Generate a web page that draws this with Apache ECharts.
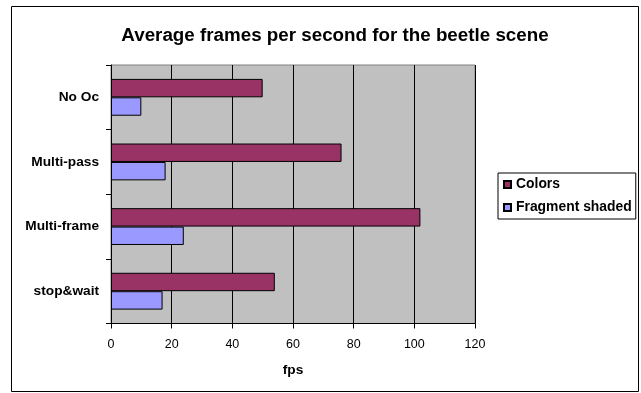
<!DOCTYPE html>
<html>
<head>
<meta charset="utf-8">
<script src="https://cdn.jsdelivr.net/npm/echarts@6/dist/echarts.min.js"></script>
<style>
  html, body { margin: 0; padding: 0; background: #ffffff; }
  #chart { width: 641px; height: 393px; }
</style>
</head>
<body>
<div id="chart"></div>
<script>
// Scene variants, listed top to bottom
const categories = ['No Oc', 'Multi-pass', 'Multi-frame', 'stop&wait'];
// Average frames per second
const colorsFps = [50, 76, 102, 54];
const fragmentShadedFps = [10, 18, 24, 17];
const seriesNames = ['Colors', 'Fragment shaded'];
const fpsTicks = { min: 0, max: 120, interval: 20 };

const FONT = '"Liberation Sans", Arial, sans-serif';

const chart = echarts.init(document.getElementById('chart'), null, { renderer: 'canvas' });

chart.setOption({
  animation: false,
  backgroundColor: '#ffffff',
  title: {
    text: 'Average frames per second for the beetle scene',
    left: 330,
    top: 21,
    textAlign: 'center',
    textStyle: { fontFamily: FONT, fontWeight: 'bold', fontSize: 18.8, color: '#000' }
  },
  graphic: [{
    type: 'rect',
    shape: { x: 11.5, y: 6.5, width: 627, height: 385 },
    style: { fill: 'none', stroke: '#000', lineWidth: 1 },
    z: -1
  }],
  legend: {
    orient: 'vertical',
    left: 498,
    top: 173,
    padding: [4, 4, 4, 5],
    itemGap: 8,
    itemWidth: 7,
    itemHeight: 7,
    icon: 'rect',
    backgroundColor: '#ffffff',
    borderColor: '#000',
    borderWidth: 1,
    textStyle: { fontFamily: FONT, fontWeight: 'bold', fontSize: 13.9, color: '#000', lineHeight: 15 },
    data: seriesNames
  },
  grid: {
    left: 111, top: 65, right: 166, bottom: 69.5,
    show: true,
    backgroundColor: '#C0C0C0',
    borderColor: '#808080',
    borderWidth: 1
  },
  xAxis: {
    type: 'value',
    min: fpsTicks.min, max: fpsTicks.max, interval: fpsTicks.interval,
    name: 'fps',
    nameLocation: 'middle',
    nameGap: 40,
    nameTextStyle: { fontFamily: FONT, fontWeight: 'bold', fontSize: 13.7, color: '#000' },
    axisLine: { show: true, lineStyle: { color: '#000', width: 1 } },
    axisTick: { show: true, length: 5, lineStyle: { color: '#000' } },
    axisLabel: { margin: 15, fontFamily: FONT, fontSize: 12.5, color: '#000' },
    splitLine: { show: true, lineStyle: { color: '#000', width: 1 } }
  },
  yAxis: {
    type: 'category',
    data: categories,
    inverse: true,
    axisLine: { show: true, lineStyle: { color: '#000', width: 1 } },
    axisTick: { show: true, length: 5, alignWithLabel: false, lineStyle: { color: '#000' } },
    axisLabel: { margin: 12, fontFamily: FONT, fontWeight: 'bold', fontSize: 13.7, color: '#000' },
    splitLine: { show: false }
  },
  series: [
    {
      name: seriesNames[0],
      type: 'bar',
      data: colorsFps,
      barGap: '0%',
      barCategoryGap: '43%',
      itemStyle: { color: '#993366', borderColor: '#000', borderWidth: 1 }
    },
    {
      name: seriesNames[1],
      type: 'bar',
      data: fragmentShadedFps,
      barGap: '0%',
      barCategoryGap: '43%',
      itemStyle: { color: '#9999FF', borderColor: '#000', borderWidth: 1 }
    }
  ]
});
</script>
</body>
</html>
